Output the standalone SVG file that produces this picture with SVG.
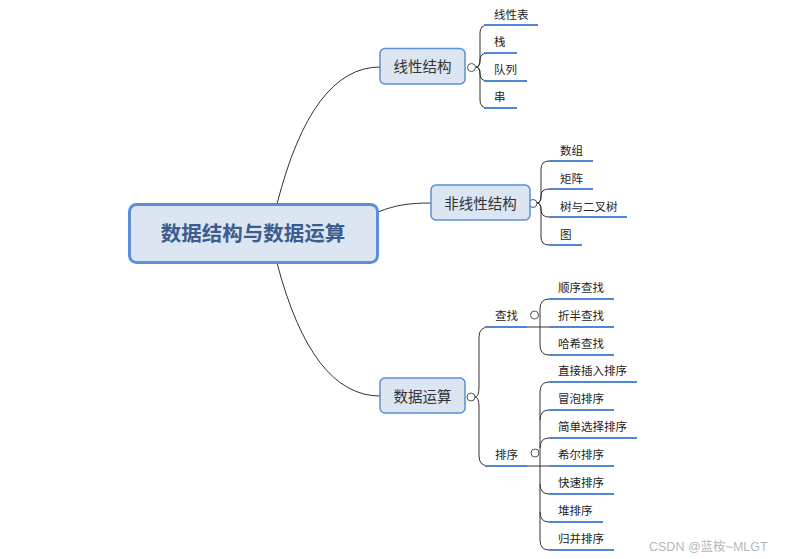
<svg xmlns="http://www.w3.org/2000/svg" width="785" height="559" viewBox="0 0 785 559">
<style>
.bg{fill:#ffffff}
.root rect{fill:#dce6f2;stroke:#5b8ed6;stroke-width:3}
.root text{font-family:"Noto Sans CJK SC",sans-serif;font-size:20.5px;font-weight:bold;fill:#3b5c8c;text-anchor:middle}
.main rect{fill:#dce6f2;stroke:#5b8ed6;stroke-width:1.5}
.main text{font-family:"Noto Sans CJK SC",sans-serif;font-size:14.5px;fill:#333;text-anchor:middle}
.leaf text{font-family:"Noto Sans CJK SC",sans-serif;font-size:11.5px;fill:#222}
.leaf line{stroke:#4f87d2;stroke-width:2.2}
.conn path{fill:none;stroke:#333;stroke-width:1}
.conn circle{fill:#fff;stroke:#555;stroke-width:1}
.wm{font-family:"Liberation Sans","Noto Sans CJK SC",sans-serif;font-size:12.5px;fill:#b8b8b8}
</style>
<rect class="bg" x="0" y="0" width="785" height="559"/>

<g id="connectors" class="conn">
  <path d="M277,204 Q312,67 380,67"/>
  <path d="M378,212 C395,205 410,203 431,203"/>
  <path d="M277,263 Q312,396 380,396"/>
  <!-- linear brace -->
  <path d="M476,67 Q480,67 480,59 L480,33 Q480,25 488,25"/>
  <path d="M476,67 Q480,67 480,61 L480,60 Q480,53 488,53"/>
  <path d="M476,67 Q480,67 480,73 L480,74 Q480,81 488,81"/>
  <path d="M476,67 Q480,67 480,75 L480,100 Q480,108 488,108"/>
  <!-- nonlinear brace -->
  <path d="M537,203 Q541,203 541,195 L541,169 Q541,161 549,161"/>
  <path d="M537,203 Q541,203 541,197 L541,196 Q541,189 549,189"/>
  <path d="M537,203 Q541,203 541,209 L541,210 Q541,217 549,217"/>
  <path d="M537,203 Q541,203 541,211 L541,237 Q541,245 549,245"/>
  <!-- data ops brace -->
  <path d="M475,397 Q479,397 479,387 L479,337 Q479,327 489,327"/>
  <path d="M475,397 Q479,397 479,407 L479,456 Q479,466 489,466"/>
  <!-- search brace -->
  <path d="M527,327 L549,327"/>
  <path d="M540,327 Q540,327 540,317 L540,309 Q540,299 549,299"/>
  <path d="M540,327 L540,345 Q540,355 549,355"/>
  <!-- sort brace -->
  <path d="M527,466 L549,466"/>
  <path d="M540,466 L540,392 Q540,382 549,382"/>
  <path d="M540,420 Q540,410 549,410"/>
  <path d="M540,448 Q540,438 549,438"/>
  <path d="M540,466 L540,540 Q540,550 549,550"/>
  <path d="M540,484 Q540,494 549,494"/>
  <path d="M540,512 Q540,522 549,522"/>
  <circle cx="471.5" cy="67.5" r="4"/>
  <circle cx="533" cy="203.5" r="4"/>
  <circle cx="471" cy="397" r="4"/>
  <circle cx="534.5" cy="315" r="4"/>
  <circle cx="535" cy="453" r="4"/>
</g>

<g id="root" class="root">
  <rect x="129.5" y="204.5" width="248" height="58" rx="7"/>
  <text x="253" y="241">数据结构与数据运算</text>
</g>

<g id="node-linear" class="main">
  <rect x="380" y="48.5" width="85" height="35.5" rx="5"/>
  <text x="422.5" y="72">线性结构</text>
</g>
<g id="node-nonlinear" class="main">
  <rect x="431" y="185" width="99" height="35" rx="5"/>
  <text x="480.5" y="208.5">非线性结构</text>
</g>
<g id="node-ops" class="main">
  <rect x="380" y="378" width="85" height="35" rx="5"/>
  <text x="422.5" y="401.5">数据运算</text>
</g>

<g id="leaf-xianxingbiao" class="leaf"><text x="494" y="18.5">线性表</text><line x1="484" y1="25" x2="538" y2="25"/></g>
<g id="leaf-zhan" class="leaf"><text x="494" y="46">栈</text><line x1="484" y1="53" x2="517" y2="53"/></g>
<g id="leaf-duilie" class="leaf"><text x="494" y="74">队列</text><line x1="484" y1="81" x2="527" y2="81"/></g>
<g id="leaf-chuan" class="leaf"><text x="494" y="101">串</text><line x1="484" y1="108" x2="517" y2="108"/></g>

<g id="leaf-shuzu" class="leaf"><text x="560" y="154.5">数组</text><line x1="549" y1="161" x2="593" y2="161"/></g>
<g id="leaf-juzhen" class="leaf"><text x="560" y="182.5">矩阵</text><line x1="549" y1="189" x2="593" y2="189"/></g>
<g id="leaf-shu" class="leaf"><text x="560" y="210.5">树与二叉树</text><line x1="549" y1="217" x2="627" y2="217"/></g>
<g id="leaf-tu" class="leaf"><text x="560" y="238.5">图</text><line x1="549" y1="245" x2="582" y2="245"/></g>

<g id="node-search" class="leaf"><text x="495" y="319.5">查找</text><line x1="485" y1="327" x2="527" y2="327"/></g>
<g id="node-sort" class="leaf"><text x="495" y="458.5">排序</text><line x1="485" y1="466" x2="527" y2="466"/></g>

<g id="leaf-shunxu" class="leaf"><text x="558" y="292">顺序查找</text><line x1="549" y1="299" x2="614" y2="299"/></g>
<g id="leaf-zheban" class="leaf"><text x="558" y="320">折半查找</text><line x1="549" y1="327" x2="614" y2="327"/></g>
<g id="leaf-haxi" class="leaf"><text x="558" y="348">哈希查找</text><line x1="549" y1="355" x2="614" y2="355"/></g>

<g id="leaf-charu" class="leaf"><text x="558" y="375">直接插入排序</text><line x1="549" y1="382" x2="637" y2="382"/></g>
<g id="leaf-maopao" class="leaf"><text x="558" y="403">冒泡排序</text><line x1="549" y1="410" x2="614" y2="410"/></g>
<g id="leaf-xuanze" class="leaf"><text x="558" y="431">简单选择排序</text><line x1="549" y1="438" x2="637" y2="438"/></g>
<g id="leaf-xier" class="leaf"><text x="558" y="459">希尔排序</text><line x1="549" y1="466" x2="614" y2="466"/></g>
<g id="leaf-kuaisu" class="leaf"><text x="558" y="487">快速排序</text><line x1="549" y1="494" x2="614" y2="494"/></g>
<g id="leaf-dui" class="leaf"><text x="558" y="515">堆排序</text><line x1="549" y1="522" x2="603" y2="522"/></g>
<g id="leaf-guibing" class="leaf"><text x="558" y="543">归并排序</text><line x1="549" y1="550" x2="614" y2="550"/></g>

<text class="wm" x="649" y="551">CSDN @蓝桉~MLGT</text>
</svg>
